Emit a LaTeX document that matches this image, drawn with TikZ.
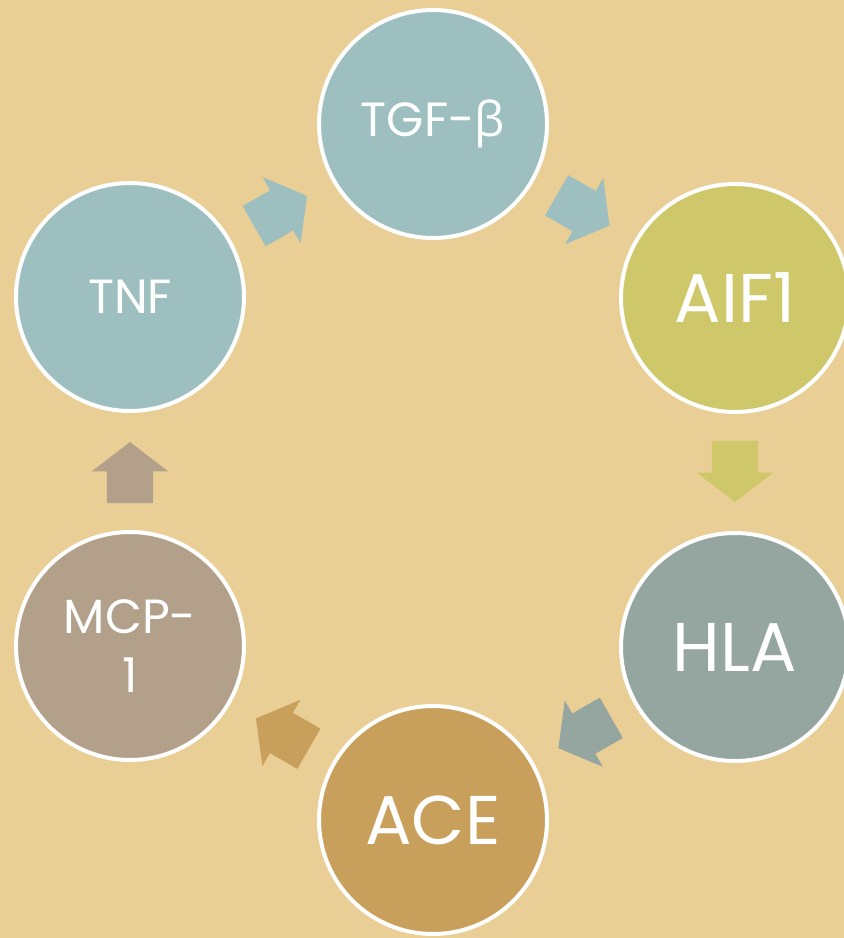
\documentclass[tikz,border=0pt]{standalone}
\usepackage{fontspec}
\setmainfont{Poppins}
\newfontfamily\grk{Open Sans}
\usetikzlibrary{shapes.arrows}
\definecolor{bg}{HTML}{E9CE95}
\definecolor{cblue}{HTML}{9DBFBF}
\definecolor{cyel}{HTML}{CFC86A}
\definecolor{cgrey}{HTML}{95A59F}
\definecolor{cgold}{HTML}{C8A05C}
\definecolor{ctaupe}{HTML}{B2A08A}
\begin{document}
\begin{tikzpicture}[x=1pt,y=-1pt,
  bub/.style={circle, draw=white, line width=4pt, minimum size=228pt, inner sep=0pt, text=white, align=center},
  smalltxt/.style={font=\fontsize{48}{59}\selectfont},
  bigtxt/.style={font=\fontsize{69}{80}\selectfont},
  blk/.style={pos=0.415, single arrow, single arrow head extend=15pt, single arrow head indent=0pt, single arrow tip angle=105, minimum height=61pt, inner xsep=0pt, inner ysep=23pt, outer sep=0pt, draw=none, sloped, allow upside down}]
\fill[bg] (0,0) rectangle (844,938);
\useasboundingbox (0,0) rectangle (844,938);
\node[bub, smalltxt, fill=cblue] (tgf) at (433,124) {TGF-{\grk β}};
\node[bub, bigtxt, fill=cyel] (aif) at (735,298) {AIF1};
\node[bub, bigtxt, fill=cgrey] (hla) at (735,647) {HLA};
\node[bub, bigtxt, fill=cgold] (ace) at (433,820) {ACE};
\node[bub, smalltxt, fill=ctaupe] (mcp) at (130,646) {MCP-\\1};
\node[bub, smalltxt, fill=cblue] (tnf) at (130,297) {TNF};
\path (tnf) -- (tgf) node[blk, fill=cblue] (a1) {};
\path (tgf) -- (aif) node[blk, fill=cblue] (a2) {};
\path (aif) -- (hla) node[blk, fill=cyel] (a3) {};
\path (hla) -- (ace) node[blk, fill=cgrey] (a4) {};
\path (ace) -- (mcp) node[blk, fill=cgold] (a5) {};
\path (mcp) -- (tnf) node[blk, fill=ctaupe] (a6) {};
\end{tikzpicture}
\end{document}
